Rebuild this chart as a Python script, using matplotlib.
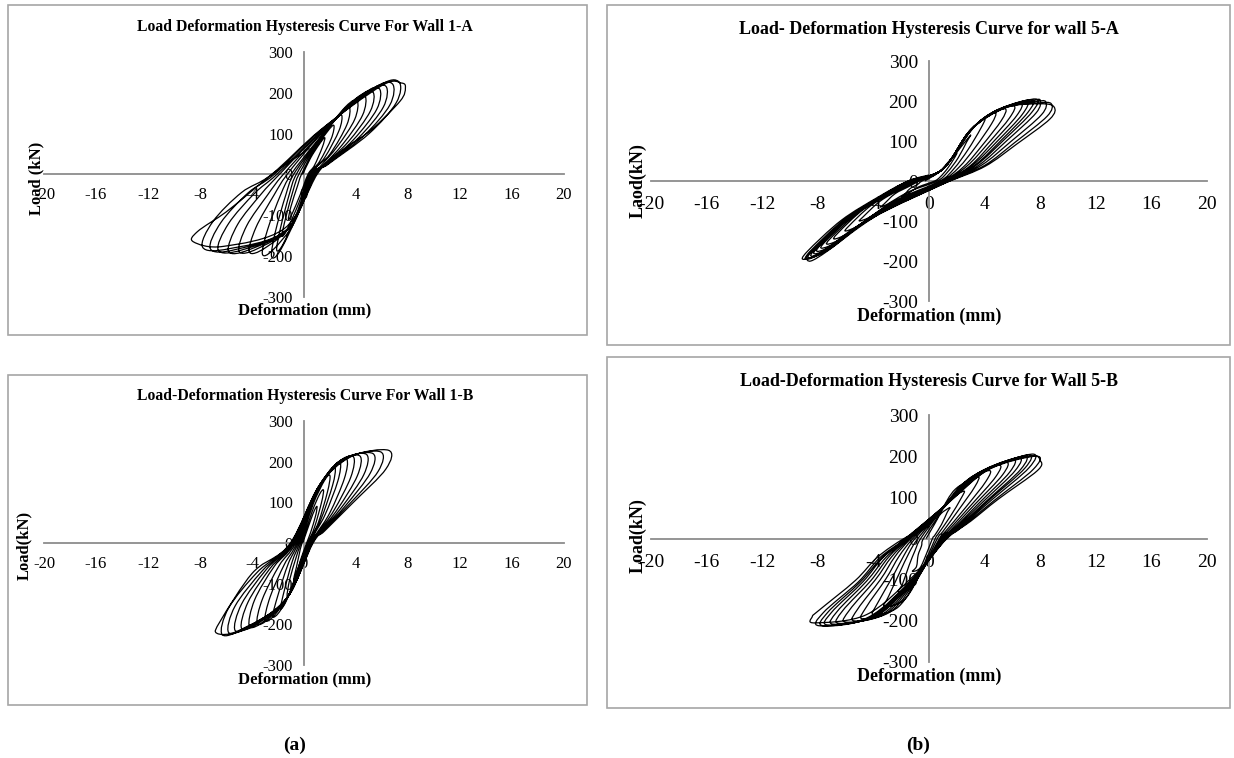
import matplotlib
matplotlib.use("Agg")
import matplotlib.pyplot as plt
from matplotlib.patches import Rectangle, PathPatch
from matplotlib.path import Path

plt.rcParams['font.family'] = ['Liberation Serif', 'DejaVu Serif']
plt.rcParams['axes.unicode_minus'] = False

W, H = 1234, 758

# ---------------- data: (deformation mm, load kN), one list of points per cycle ----------------
wall_1a = [
    [(-0.1, 0), (0.5, 40), (1.2, 75), (1.6, 90), (1.4, 66), (0.8, 22), (0.3, 0), (-0.3, -50), (-0.9, -95), (-1.2, -110), (-1.0, -78), (-0.5, -28)],
    [(-0.2, 0), (0.6, 50), (1.8, 105), (2.3, 120), (2.1, 88), (1.2, 32), (0.4, 0), (-0.4, -70), (-1.3, -135), (-1.7, -150), (-1.4, -105), (-0.8, -35)],
    [(-0.4, 0), (0.7, 60), (2.3, 130), (2.9, 145), (2.7, 108), (1.6, 42), (0.5, 0), (-0.5, -90), (-1.6, -170), (-2.1, -185), (-1.8, -130), (-1.1, -45)],
    [(-0.6, 0), (0.8, 68), (2.8, 150), (3.5, 165), (3.3, 122), (2.0, 50), (0.55, 0), (-0.6, -105), (-1.9, -190), (-2.5, -200), (-2.2, -140), (-1.4, -50)],
    [(-0.8, 0), (0.9, 75), (3.2, 166), (4.1, 180), (3.9, 135), (2.6, 70), (1.2, 18), (0.6, 0), (-0.7, -115), (-2.4, -185), (-3.2, -195), (-2.8, -135), (-1.8, -50)],
    [(-1.0, 0), (1.0, 82), (3.7, 178), (4.7, 192), (4.5, 145), (3.0, 75), (1.4, 20), (0.65, 0), (-0.9, -120), (-3.0, -180), (-4.2, -190), (-3.7, -130), (-2.3, -50)],
    [(-1.3, 0), (1.0, 88), (4.1, 188), (5.3, 202), (5.1, 155), (3.4, 80), (1.5, 22), (0.7, 0), (-1.0, -125), (-3.6, -182), (-5.0, -188), (-4.4, -125), (-2.8, -50)],
    [(-1.6, 0), (1.1, 94), (4.5, 196), (5.8, 210), (5.6, 160), (3.8, 85), (1.6, 22), (0.75, 0), (-1.1, -128), (-4.2, -184), (-5.8, -188), (-5.1, -122), (-3.3, -48)],
    [(-1.9, 0), (1.1, 98), (4.9, 203), (6.3, 216), (6.1, 165), (4.2, 90), (1.7, 24), (0.8, 0), (-1.2, -132), (-4.8, -185), (-6.6, -185), (-5.8, -120), (-3.8, -46)],
    [(-2.1, 0), (1.2, 102), (5.3, 210), (6.8, 222), (6.6, 170), (4.6, 95), (1.8, 25), (0.85, 0), (-1.3, -135), (-5.3, -184), (-7.2, -182), (-6.4, -118), (-4.3, -45)],
    [(-2.3, 0), (1.2, 106), (5.7, 216), (7.3, 227), (7.1, 176), (5.0, 100), (1.9, 26), (0.9, 0), (-1.4, -137), (-5.8, -182), (-7.8, -178), (-7.0, -115), (-4.8, -44)],
    [(-2.5, 0), (1.3, 110), (6.0, 218), (7.5, 224), (7.8, 212), (7.4, 180), (5.2, 110), (3.5, 72), (2.0, 35), (1.0, 0), (-1.5, -132), (-6.2, -176),
     (-8.5, -165), (-8.2, -140), (-6.0, -92), (-4.0, -40), (-2.0, 12), (0.0, 55), (0.4, 65)],
]

wall_1b = [
    [(-0.1, 0), (0.5, 55), (0.8, 80), (1.0, 90), (0.9, 68), (0.5, 25), (0.2, 0), (-0.3, -45), (-0.6, -80), (-0.8, -90), (-0.6, -62), (-0.35, -25)],
    [(-0.15, 0), (0.6, 75), (1.2, 120), (1.5, 130), (1.35, 100), (0.8, 38), (0.3, 0), (-0.5, -65), (-1.0, -115), (-1.3, -130), (-1.1, -90), (-0.6, -35)],
    [(-0.25, 0), (0.7, 95), (1.6, 155), (2.0, 165), (1.8, 125), (1.1, 50), (0.35, 0), (-0.6, -80), (-1.4, -145), (-1.8, -160), (-1.5, -115), (-0.9, -45)],
    [(-0.35, 0), (0.8, 110), (1.9, 175), (2.4, 185), (2.2, 142), (1.3, 58), (0.4, 0), (-0.7, -95), (-1.8, -165), (-2.4, -180), (-2.0, -128), (-1.2, -50)],
    [(-0.45, 0), (0.9, 120), (2.2, 185), (2.8, 198), (2.6, 152), (1.6, 68), (0.45, 0), (-0.8, -105), (-2.2, -175), (-3.0, -190), (-2.6, -132), (-1.5, -52)],
    [(-0.55, 0), (0.9, 125), (2.4, 192), (3.3, 205), (3.1, 158), (2.0, 75), (1.0, 25), (0.5, 0), (-0.9, -115), (-2.6, -183), (-3.6, -198), (-3.2, -138), (-1.9, -55)],
    [(-0.65, 0), (1.0, 130), (2.6, 198), (3.8, 212), (3.6, 162), (2.3, 80), (1.1, 26), (0.5, 0), (-1.0, -120), (-3.0, -190), (-4.2, -205), (-3.8, -140), (-2.3, -58)],
    [(-0.75, 0), (1.0, 132), (2.8, 202), (4.3, 214), (4.1, 165), (2.6, 84), (1.2, 27), (0.55, 0), (-1.1, -125), (-3.4, -195), (-4.8, -210), (-4.3, -145), (-2.6, -62)],
    [(-0.85, 0), (1.1, 135), (3.0, 205), (4.8, 218), (4.6, 168), (2.9, 88), (1.3, 28), (0.6, 0), (-1.2, -130), (-3.8, -200), (-5.3, -215), (-4.8, -150), (-2.9, -65)],
    [(-0.95, 0), (1.1, 138), (3.2, 208), (5.3, 220), (5.1, 172), (3.2, 92), (1.4, 29), (0.6, 0), (-1.3, -135), (-4.2, -205), (-5.8, -220), (-5.3, -155), (-3.2, -68)],
    [(-1.0, 0), (1.2, 140), (3.4, 210), (5.9, 224), (5.7, 176), (3.5, 96), (1.5, 30), (0.65, 0), (-1.4, -140), (-4.6, -210), (-6.3, -225), (-5.8, -160), (-3.6, -72)],
    [(-1.05, 0), (1.2, 142), (3.6, 212), (6.5, 228), (6.3, 182), (3.8, 100), (1.6, 30), (0.7, 0), (-1.5, -142), (-5.0, -215), (-6.7, -222), (-6.4, -190),
     (-4.0, -75), (-2.0, -30), (-0.8, 0), (0.0, 45)],
]

wall_5a = [
    [(-0.3, 0), (0.7, 22), (1.5, 52), (2.0, 70), (1.8, 56), (1.3, 30), (0.8, 10), (0.4, 0), (-0.7, -14), (-1.2, -24), (-1.7, -36), (-2.0, -40), (-1.8, -36), (-1.4, -20), (-0.8, -8)],
    [(-0.5, 0), (1.0, 30), (2.3, 85), (3.0, 115), (2.7, 97), (2.1, 58), (1.35, 23), (0.6, 0), (-1.2, -23), (-2.1, -39), (-3.0, -58), (-3.5, -65), (-3.25, -58), (-2.45, -32), (-1.4, -13)],
    [(-0.7, 0), (1.0, 30), (3.0, 125), (4.0, 155), (3.7, 130), (2.8, 78), (1.8, 31), (0.8, 0), (-1.65, -36), (-3.0, -60), (-4.25, -90), (-5.0, -100), (-4.75, -90), (-3.5, -50), (-2.0, -20)],
    [(-0.8, 0), (1.0, 30), (3.0, 125), (4.1, 160), (4.8, 170), (4.5, 143), (3.35, 85), (2.15, 34), (0.9, 0), (-2.0, -45), (-3.6, -75), (-5.1, -112), (-6.0, -125), (-5.75, -112), (-4.2, -62), (-2.4, -25)],
    [(-0.9, 0), (1.0, 30), (3.0, 126), (4.4, 168), (5.5, 180), (5.2, 151), (3.85, 90), (2.5, 36), (1.0, 0), (-2.25, -52), (-4.1, -87), (-5.8, -130), (-6.8, -145), (-6.55, -130), (-4.75, -72), (-2.7, -29)],
    [(-1.0, 0), (1.0, 30), (3.0, 127), (4.6, 172), (6.1, 188), (5.8, 158), (4.25, 94), (2.75, 38), (1.1, 0), (-2.4, -57), (-4.4, -95), (-6.2, -142), (-7.3, -158), (-7.05, -142), (-5.1, -79), (-2.9, -32)],
    [(-1.1, 0), (1.0, 30), (3.0, 128), (4.8, 176), (6.6, 194), (6.3, 163), (4.6, 97), (3.0, 39), (1.2, 0), (-2.55, -60), (-4.6, -101), (-6.55, -151), (-7.7, -168), (-7.45, -151), (-5.4, -84), (-3.1, -34)],
    [(-1.2, 0), (1.0, 30), (3.0, 128), (5.0, 178), (7.0, 198), (6.7, 166), (4.9, 99), (3.15, 40), (1.25, 0), (-2.65, -63), (-4.8, -106), (-6.8, -158), (-8.0, -176), (-7.75, -158), (-5.6, -88), (-3.2, -35)],
    [(-1.25, 0), (1.0, 30), (3.0, 128), (5.1, 180), (7.4, 203), (7.1, 171), (5.2, 102), (3.35, 41), (1.3, 0), (-2.7, -66), (-4.9, -109), (-7.0, -164), (-8.2, -182), (-7.95, -164), (-5.75, -91), (-3.3, -36)],
    [(-1.3, 0), (1.0, 30), (3.0, 128), (5.2, 181), (7.7, 205), (7.4, 172), (5.4, 103), (3.45, 41), (1.35, 0), (-2.8, -68), (-5.0, -113), (-7.1, -169), (-8.4, -188), (-8.15, -169), (-5.9, -94), (-3.35, -38)],
    [(-1.35, 0), (1.0, 30), (3.0, 128), (5.3, 182), (7.4, 200), (8.0, 202), (7.7, 170), (5.6, 101), (3.6, 40), (1.4, 0), (-2.85, -69), (-5.2, -115), (-7.3, -173), (-8.6, -192),
     (-8.35, -173), (-6.0, -96), (-3.45, -38)],
    [(-1.4, 0), (1.0, 30), (3.0, 128), (5.4, 183), (7.6, 198), (8.4, 198), (8.1, 166), (5.9, 99), (3.8, 40), (1.45, 0), (-2.9, -71), (-5.3, -118), (-7.5, -176), (-8.8, -196),
     (-8.55, -176), (-6.15, -98), (-3.5, -39)],
    [(-1.45, 0), (1.0, 30), (3.0, 128), (5.5, 183), (7.8, 195), (8.8, 193), (8.5, 162), (6.2, 97), (4.0, 39), (1.5, 0), (-3.0, -71), (-5.4, -118), (-7.65, -176), (-9.0, -196),
     (-8.75, -176), (-6.3, -98), (-3.6, -39)],
    [(-1.5, 0), (1.0, 30), (3.0, 128), (5.5, 183), (8.0, 193), (9.0, 185), (8.7, 155), (6.3, 92), (4.05, 37), (1.5, 0), (-1.0, -32), (-3.0, -70), (-5.0, -115), (-7.3, -175),
     (-8.5, -200), (-8.8, -190), (-8.3, -170), (-6.0, -100), (-3.5, -40), (-1.5, 0), (0.0, 15)],
]

wall_5b = [
    [(-0.2, 0), (0.4, 35), (0.85, 60), (1.5, 75), (1.3, 63), (0.9, 34), (0.42, 8), (0.25, 0), (-0.17, -36), (-0.66, -72), (-1.2, -80), (-0.9, -68), (-0.78, -40), (-0.54, -18)],
    [(-0.4, 0), (0.6, 50), (1.4, 92), (2.5, 115), (2.3, 97), (1.5, 52), (0.7, 13), (0.45, 0), (-0.3, -58), (-1.2, -117), (-2.2, -130), (-1.9, -110), (-1.43, -65), (-1.0, -29)],
    [(-0.6, 0), (0.8, 65), (1.9, 120), (3.5, 150), (3.3, 126), (2.1, 68), (1.0, 17), (0.6, 0), (-0.45, -74), (-1.75, -148), (-3.2, -165), (-2.9, -140), (-2.1, -82), (-1.45, -36)],
    [(-0.8, 0), (0.9, 70), (2.4, 132), (4.3, 165), (4.1, 139), (2.6, 74), (1.2, 18), (0.75, 0), (-0.56, -83), (-2.2, -166), (-4.0, -185), (-3.7, -157), (-2.6, -92), (-1.8, -41)],
    [(-1.0, 0), (1.0, 72), (2.75, 142), (5.0, 178), (4.8, 150), (3.0, 80), (1.4, 20), (0.85, 0), (-0.67, -88), (-2.65, -175), (-4.8, -195), (-4.5, -166), (-3.1, -98), (-2.15, -43)],
    [(-1.15, 0), (1.0, 74), (3.0, 148), (5.5, 185), (5.3, 155), (3.3, 83), (1.55, 20), (0.95, 0), (-0.76, -90), (-3.0, -180), (-5.4, -200), (-5.1, -170), (-3.5, -100), (-2.45, -44)],
    [(-1.3, 0), (1.1, 76), (3.3, 154), (6.0, 192), (5.8, 161), (3.6, 86), (1.7, 21), (1.0, 0), (-0.84, -91), (-3.3, -183), (-6.0, -203), (-5.7, -173), (-3.9, -102), (-2.7, -45)],
    [(-1.4, 0), (1.1, 78), (3.5, 157), (6.4, 196), (6.2, 165), (3.85, 88), (1.8, 22), (1.05, 0), (-0.91, -93), (-3.6, -185), (-6.5, -206), (-6.2, -175), (-4.2, -103), (-2.9, -45)],
    [(-1.5, 0), (1.2, 80), (3.7, 160), (6.8, 200), (6.6, 168), (4.1, 90), (1.9, 22), (1.1, 0), (-0.97, -94), (-3.8, -187), (-6.9, -208), (-6.6, -177), (-4.5, -104), (-3.1, -46)],
    [(-1.55, 0), (1.2, 81), (3.9, 162), (7.1, 203), (6.9, 171), (4.25, 91), (2.0, 22), (1.15, 0), (-1.0, -95), (-4.0, -189), (-7.3, -210), (-7.0, -179), (-4.75, -105), (-3.3, -46)],
    [(-1.6, 0), (1.2, 82), (4.05, 164), (7.4, 205), (7.2, 172), (4.45, 92), (2.1, 23), (1.2, 0), (-1.06, -95), (-4.2, -191), (-7.6, -212), (-7.3, -180), (-4.95, -106), (-3.4, -47)],
    [(-1.65, 0), (1.25, 83), (4.2, 166), (7.7, 200), (7.5, 168), (4.6, 90), (2.15, 22), (1.25, 0), (-1.1, -95), (-4.35, -191), (-7.9, -212), (-7.6, -180), (-5.1, -106), (-3.55, -47)],
    [(-1.7, 0), (1.3, 84), (4.3, 168), (7.3, 200), (8.0, 190), (7.8, 165), (5.0, 96), (3.0, 42), (1.3, 0), (-1.15, -92), (-4.5, -185), (-8.2, -205),
     (-8.4, -190), (-7.9, -174), (-5.3, -102), (-3.7, -45), (-1.8, 0), (0.0, 30)],
]

x_ticks = [-20, -16, -12, -8, -4, 0, 4, 8, 12, 16, 20]
y_ticks = [-300, -200, -100, 0, 100, 200, 300]

titles = ["Load Deformation Hysteresis Curve For Wall 1-A",
          "Load-Deformation Hysteresis Curve For Wall 1-B",
          "Load- Deformation Hysteresis Curve for wall 5-A",
          "Load-Deformation Hysteresis Curve for Wall 5-B"]
y_labels = ["Load (kN)", "Load(kN)", "Laod(kN)", "Load(kN)"]
x_label = "Deformation (mm)"

# ---------------- layout in pixels (left, top, right, bottom) ----------------
boxes = [(8, 5, 587, 335), (8, 375, 587, 705), (607, 5, 1230, 345), (607, 357, 1230, 708)]
plot_areas = [(44, 52, 564, 297), (44, 421, 564, 665), (651, 61, 1207, 301), (651, 415, 1207, 662)]
title_pos = [(305, 27), (305, 396), (929, 30), (929, 382)]
xlab_pos = [(305, 310), (305, 679), (929, 316), (929, 676)]
ylab_pos = [(36, 178), (24, 545), (638, 181), (638, 536)]
tick_size = [12, 12, 14, 14]
xtick_pad = [9, 9, 11, 11]
title_size = [11.3, 11.3, 13, 13]
label_size = [12, 12, 13, 13]

fig = plt.figure(figsize=(W / 100, H / 100), dpi=100)
fig.patch.set_facecolor('white')


def fx(px):
    return px / W


def fy(py):
    return 1 - py / H


def smooth_path(pts):
    # smoothed scatter line (like Excel's "smoothed line"), passes through every data point
    verts = [pts[0]]
    codes = [Path.MOVETO]
    n = len(pts)
    for k in range(n - 1):
        p0 = pts[k - 1] if k > 0 else pts[k]
        p1, p2 = pts[k], pts[k + 1]
        p3 = pts[k + 2] if k + 2 < n else pts[k + 1]
        c1 = (p1[0] + (p2[0] - p0[0]) / 6, p1[1] + (p2[1] - p0[1]) / 6)
        c2 = (p2[0] - (p3[0] - p1[0]) / 6, p2[1] - (p3[1] - p1[1]) / 6)
        verts += [c1, c2, p2]
        codes += [Path.CURVE4] * 3
    return Path(verts, codes)


for i, data in enumerate([wall_1a, wall_1b, wall_5a, wall_5b]):
    bl, bt, br, bb = boxes[i]
    fig.patches.append(Rectangle((fx(bl), fy(bb)), fx(br - bl), (bb - bt) / H, transform=fig.transFigure,
                                 fill=False, edgecolor='#a6a6a6', linewidth=1.2))

    l, t, r, b = plot_areas[i]
    ax = fig.add_axes([fx(l), fy(b), fx(r - l), (b - t) / H])
    ax.set_facecolor('none')

    pts = [p for cyc in data for p in cyc]
    ax.add_patch(PathPatch(smooth_path(pts), fill=False, edgecolor='black', linewidth=0.9, zorder=3))

    ax.set_xlim(-20, 20)
    ax.set_ylim(-300, 300)
    ax.spines['left'].set_position('zero')
    ax.spines['bottom'].set_position('zero')
    ax.spines['top'].set_visible(False)
    ax.spines['right'].set_visible(False)
    for s in ['left', 'bottom']:
        ax.spines[s].set_color('#8c8c8c')
        ax.spines[s].set_linewidth(1.3)
    ax.set_xticks(x_ticks)
    ax.set_yticks(y_ticks)
    ax.tick_params(axis='x', length=0, pad=xtick_pad[i], labelsize=tick_size[i])
    ax.tick_params(axis='y', length=0, pad=8, labelsize=tick_size[i])
    ax.set_axisbelow(True)

    fig.text(fx(title_pos[i][0]), fy(title_pos[i][1]), titles[i], ha='center', va='center',
             fontsize=title_size[i], fontweight='bold')
    fig.text(fx(xlab_pos[i][0]), fy(xlab_pos[i][1]), x_label, ha='center', va='center',
             fontsize=label_size[i], fontweight='bold')
    fig.text(fx(ylab_pos[i][0]), fy(ylab_pos[i][1]), y_labels[i], ha='center', va='center',
             rotation=90, fontsize=label_size[i], fontweight='bold')

fig.text(fx(295), fy(745), "(a)", ha='center', va='center', fontsize=14, fontweight='bold')
fig.text(fx(918), fy(745), "(b)", ha='center', va='center', fontsize=14, fontweight='bold')

fig.savefig("out.png", dpi=100)
